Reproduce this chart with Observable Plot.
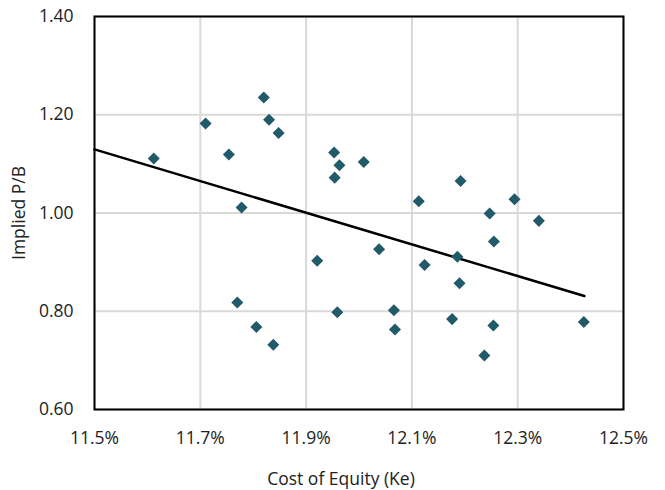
<!DOCTYPE html>
<html>
<head>
<meta charset="utf-8">
<script src="https://cdn.jsdelivr.net/npm/d3@7"></script>
<script src="https://cdn.jsdelivr.net/npm/@observablehq/plot@0.6"></script>
<style>
  html, body { margin: 0; padding: 0; background: #fff; }
  #chart { width: 665px; height: 490px; }
</style>
</head>
<body>
<div id="chart"></div>
<script>
// Cost of equity (Ke, %) for each observation
const costOfEquity = [
  11.612, 11.710, 11.820, 11.830, 11.848, 11.754, 11.778, 11.953,
  11.963, 11.954, 12.009, 12.113, 12.038, 11.921, 12.124, 12.192,
  12.294, 12.247, 12.340, 12.255, 12.186, 12.190, 11.770, 11.806,
  11.838, 11.959, 12.066, 12.068, 12.176, 12.254, 12.237, 12.425
];
// Implied P/B for each observation
const impliedPB = [
  1.111, 1.182, 1.235, 1.190, 1.163, 1.119, 1.011, 1.123,
  1.097, 1.072, 1.104, 1.024, 0.926, 0.903, 0.894, 1.065,
  1.028, 0.999, 0.984, 0.942, 0.911, 0.857, 0.818, 0.768,
  0.732, 0.798, 0.802, 0.763, 0.784, 0.771, 0.710, 0.778
];
// Linear trendline endpoints (as drawn)
const trendKe = [11.5, 12.426];
const trendPB = [1.1295, 0.831];

const xTicks = [11.5, 11.7, 11.9, 12.1, 12.3, 12.5];
const yTicks = [0.60, 0.80, 1.00, 1.20, 1.40];
const xTitle = "Cost of Equity (Ke)";
const yTitle = "Implied P/B";

const points = costOfEquity.map((ke, i) => ({ke, pb: impliedPB[i]}));
const trend = trendKe.map((ke, i) => ({ke, pb: trendPB[i]}));

const font = "'Open Sans', 'Noto Sans', sans-serif";
const fs = 17.5;

const chart = Plot.plot({
  width: 665,
  height: 490,
  marginLeft: 94,
  marginRight: 42,
  marginTop: 16,
  marginBottom: 81,
  style: { fontFamily: font, fontSize: fs + "px", color: "#222", background: "#fff" },
  x: { domain: [11.5, 12.5], ticks: xTicks },
  y: { domain: [0.6, 1.4], ticks: yTicks },
  marks: [
    Plot.gridX(xTicks, { stroke: "#d9d9d9", strokeOpacity: 1, strokeWidth: 2 }),
    Plot.gridY(yTicks, { stroke: "#d9d9d9", strokeOpacity: 1, strokeWidth: 2 }),
    Plot.frame({ stroke: "#000", strokeWidth: 2 }),
    Plot.axisX(xTicks, {
      tickSize: 0, tickPadding: 22, fontSize: fs,
      tickFormat: d => d.toFixed(1) + "%",
      label: null
    }),
    Plot.axisY(yTicks, {
      tickSize: 0, tickPadding: 21, fontSize: fs,
      tickFormat: d => d.toFixed(2),
      label: yTitle, labelAnchor: "center", labelArrow: "none", labelOffset: 82
    }),
    Plot.text([xTitle], {
      text: d => d, frameAnchor: "bottom", dx: -18, dy: 75,
      fontSize: fs, fill: "#222"
    }),
    Plot.line(trend, { x: "ke", y: "pb", stroke: "#000", strokeWidth: 2.5 }),
    Plot.dot(points, {
      x: "ke", y: "pb", symbol: "square", r: 4.8, rotate: 45,
      fill: "#215a69", stroke: "none"
    })
  ]
});

document.getElementById("chart").appendChild(chart);
</script>
</body>
</html>
